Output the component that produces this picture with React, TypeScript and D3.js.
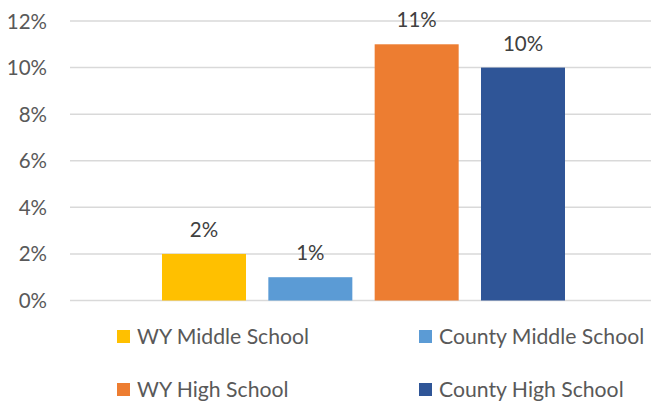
import React from "react";
import * as d3 from "d3";

const seriesNames = ["WY Middle School", "County Middle School", "WY High School", "County High School"];
const seriesValues = [0.02, 0.01, 0.11, 0.10];
const seriesColors = ["#FFC000", "#5B9BD5", "#ED7D31", "#2F5597"];
const yTicks = [0, 0.02, 0.04, 0.06, 0.08, 0.1, 0.12];

const W = 652;
const H = 402;
const FONT = "Lato, 'Noto Sans', sans-serif";

export default function App() {
  const y = d3.scaleLinear().domain([0, 0.12]).range([300.5, 21]);
  const x = d3.scaleBand<string>().domain(seriesNames).range([162, 565]).paddingInner(0.21).paddingOuter(0);
  const fmt = d3.format(".0%");
  const legendPos = [
    { x: 117, y: 330 },
    { x: 419, y: 330 },
    { x: 117, y: 383 },
    { x: 419, y: 383 },
  ];
  return (
    <svg width={W} height={H} style={{ position: "absolute", left: 0, top: 0, background: "#fff" }} fontFamily={FONT}>
      <rect width={W} height={H} fill="#fff" />
      {yTicks.map((t) => (
        <g key={t}>
          <line x1={70} x2={651} y1={y(t)} y2={y(t)} stroke="#D9D9D9" strokeWidth={1.5} />
          <text x={47} y={y(t) + 7.5} textAnchor="end" fontSize={20.5} fill="#595959">
            {fmt(t)}
          </text>
        </g>
      ))}
      {seriesNames.map((s, i) => (
        <g key={s}>
          <rect x={x(s)} y={y(seriesValues[i])} width={x.bandwidth()} height={y(0) - y(seriesValues[i])} fill={seriesColors[i]} />
          <text x={(x(s) as number) + x.bandwidth() / 2} y={y(seriesValues[i]) - 17} textAnchor="middle" fontSize={20.5} fill="#404040">
            {fmt(seriesValues[i])}
          </text>
        </g>
      ))}
      {seriesNames.map((s, i) => (
        <g key={"lg" + s}>
          <rect x={legendPos[i].x} y={legendPos[i].y} width={13} height={13} fill={seriesColors[i]} />
          <text x={legendPos[i].x + 20} y={legendPos[i].y + 13.5} fontSize={21.2} fill="#595959">
            {s}
          </text>
        </g>
      ))}
    </svg>
  );
}
